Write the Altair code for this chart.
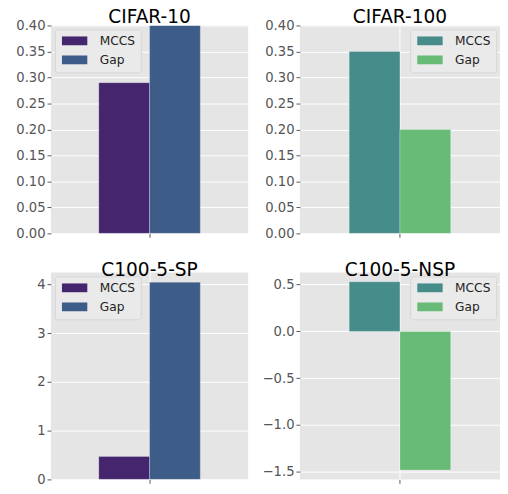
import altair as alt
import pandas as pd

series = ["MCCS", "Gap"]
titles = ["CIFAR-10", "CIFAR-100", "C100-5-SP", "C100-5-NSP"]
mccs_vals = [0.29, 0.35, 0.47, 0.53]
gap_vals = [0.40, 0.20, 4.05, -1.48]
y_domains = [[0, 0.40], [0, 0.40], [0, 4.25], [-1.58, 0.63]]
y_ticks = [
    [0.0, 0.05, 0.10, 0.15, 0.20, 0.25, 0.30, 0.35, 0.40],
    [0.0, 0.05, 0.10, 0.15, 0.20, 0.25, 0.30, 0.35, 0.40],
    [0, 1, 2, 3, 4],
    [-1.5, -1.0, -0.5, 0.0, 0.5],
]
y_formats = [".2f", ".2f", "d", ".1f"]
palettes = [
    ["#45266e", "#3d5d88"],
    ["#468c8a", "#67bb77"],
    ["#45266e", "#3d5d88"],
    ["#468c8a", "#67bb77"],
]
legend_orients = ["top-left", "top-right", "top-left", "top-right"]

FONT = "DejaVu Sans"
BAND = 104


def panel(i, w, h):
    df = pd.DataFrame({
        "group": ["0", "0"],
        "series": series,
        "value": [mccs_vals[i], gap_vals[i]],
    })
    outer = (w - BAND) / 2 / BAND
    return alt.Chart(df, title=alt.Title(titles[i])).mark_bar(
        clip=True, stroke="white", strokeOpacity=0.25, strokeWidth=1
    ).encode(
        x=alt.X("group:N", title=None,
                scale=alt.Scale(paddingInner=0, paddingOuter=outer),
                axis=alt.Axis(labels=False, ticks=True, grid=True, domain=False,
                              bandPosition=0.5)),
        xOffset=alt.XOffset("series:N", sort=series,
                            scale=alt.Scale(domain=series, paddingInner=0, paddingOuter=0)),
        y=alt.Y("value:Q", title=None,
                scale=alt.Scale(domain=y_domains[i], nice=False, zero=False),
                axis=alt.Axis(values=y_ticks[i], format=y_formats[i], domain=False)),
        color=alt.Color("series:N", sort=series,
                        scale=alt.Scale(domain=series, range=palettes[i]),
                        legend=alt.Legend(title=None, orient=legend_orients[i])),
    ).properties(width=w, height=h)


chart = alt.concat(
    panel(0, 202, 213), panel(1, 205, 213),
    panel(2, 202, 212), panel(3, 205, 212),
    columns=2, spacing={"row": 40, "column": 53}, bounds="flush",
).resolve_scale(
    color="independent"
).properties(
    padding={"left": 7, "top": -6, "right": 0, "bottom": 0}
).configure(
    font=FONT, background="white"
).configure_view(
    fill="#E5E5E5", strokeWidth=0
).configure_axis(
    gridColor="white", gridWidth=1, labelFont=FONT, labelFontSize=13.5,
    labelColor="#555555", tickColor="#555555", tickSize=4, labelPadding=2,
    domain=False
).configure_title(
    font=FONT, fontSize=19, fontWeight=400, color="black", offset=-8
).configure_legend(
    fillColor="#eaeaea", strokeColor="#d6d6d6", cornerRadius=3, padding=5.5,
    offset=4, labelFont=FONT, labelFontSize=12.5, labelColor="#222222",
    symbolType="M-1,-1H4.78V1H-1Z", symbolSize=81, symbolStrokeWidth=0,
    symbolOpacity=1, rowPadding=6.5, labelOffset=28
)

chart.save("out.html", embed_options={"renderer": "svg", "actions": False})
